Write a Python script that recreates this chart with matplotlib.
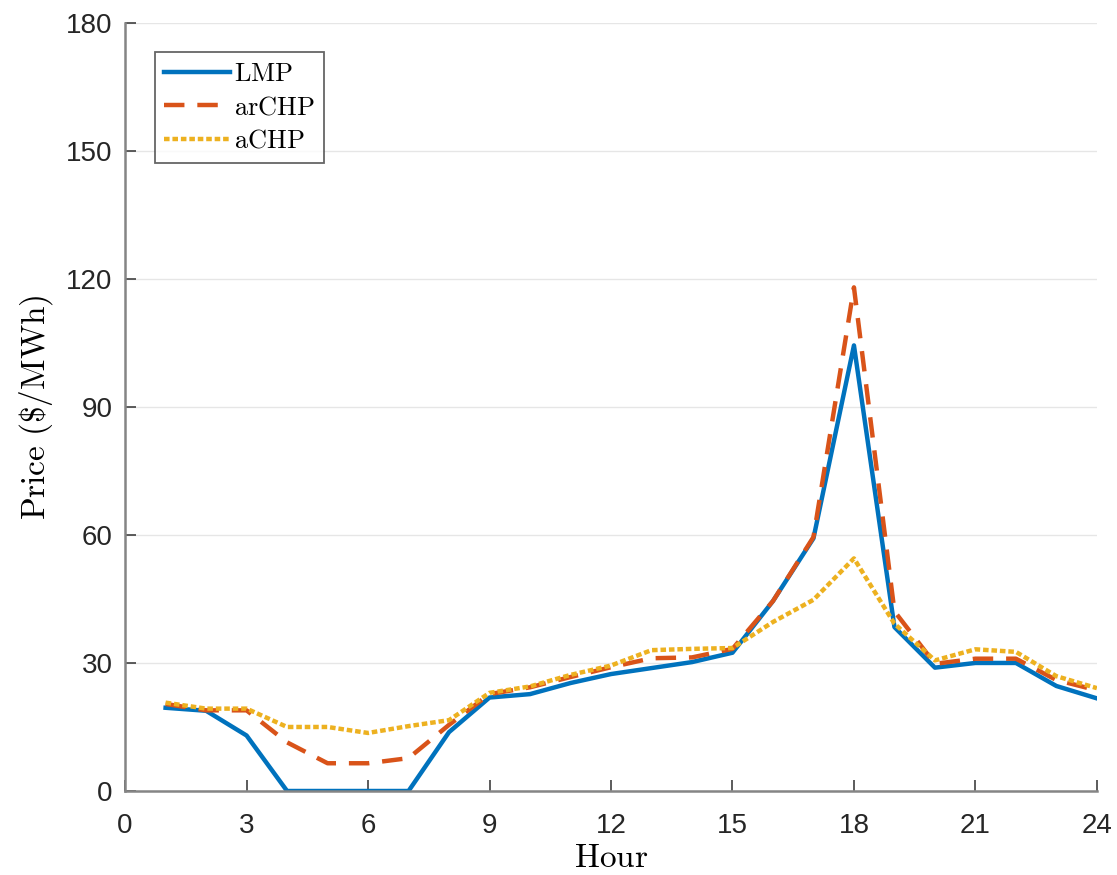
import matplotlib.pyplot as plt

plt.rcParams["mathtext.fontset"] = "cm"

# ----------------------------
# Hourly price data
# ----------------------------
hours = list(range(1, 25))

lmp = [19.5, 18.8, 13.0, 0, 0, 0, 0, 13.8, 21.9, 22.7, 25.3, 27.4,
       28.8, 30.2, 32.4, 44.5, 59.2, 104.4, 38.4, 28.9, 30.0, 30.0, 24.6, 21.7]

archp = [20.4, 18.9, 18.9, 11.4, 6.5, 6.5, 7.7, 15.5, 22.7, 24.3, 26.7, 29.0,
         31.1, 31.3, 33.3, 44.5, 59.5, 118.0, 42.1, 29.8, 31.0, 31.0, 26.0, 23.6]

achp = [20.7, 19.3, 19.3, 15.0, 15.0, 13.6, 15.2, 16.6, 23.0, 24.5, 27.2, 29.4,
        33.0, 33.3, 33.5, 39.6, 44.8, 54.5, 39.2, 30.6, 33.2, 32.6, 26.9, 24.1]

x_ticks = list(range(0, 25, 3))
y_ticks = list(range(0, 181, 30))

# ----------------------------
# Plot
# ----------------------------
fig = plt.figure(figsize=(11.17, 8.75), dpi=100)
ax = fig.add_axes([0.112, 0.096, 0.870, 0.878])

ax.plot(hours, lmp, color="#0072BD", lw=3.2, label=r"$\mathrm{LMP}$")
ax.plot(hours, archp, color="#D95319", lw=3.2, dashes=(4.6, 2.9),
        label=r"$\mathrm{arCHP}$")
ax.plot(hours, achp, color="#EDB120", lw=3.2, dashes=(1.25, 0.65),
        label=r"$\mathrm{aCHP}$")

ax.set_xlim(0, 24)
ax.set_ylim(0, 180)
ax.set_xticks(x_ticks)
ax.set_yticks(y_ticks)

ax.grid(axis="y", color="#e6e6e6", lw=1)
ax.set_axisbelow(True)

for side in ["top", "right"]:
    ax.spines[side].set_visible(False)
for side in ["left", "bottom"]:
    ax.spines[side].set_color("#858585")
    ax.spines[side].set_linewidth(1.8)

ax.tick_params(direction="in", length=8, width=1.2, color="#404040",
               labelcolor="#262626", labelsize=20)
ax.tick_params(axis="x", pad=16)
ax.tick_params(axis="y", pad=9)
for lbl in ax.get_xticklabels() + ax.get_yticklabels():
    lbl.set_family("Liberation Sans")

ax.set_xlabel(r"$\mathrm{Hour}$", fontsize=24, labelpad=1)
ax.set_ylabel(r"$\mathrm{Price\ (\$/MWh)}$", fontsize=24, labelpad=8)

leg = ax.legend(loc="upper left", bbox_to_anchor=(0.031, 0.962),
                prop={"size": 19},
                frameon=True, fancybox=False, handlelength=2.5,
                handletextpad=0.15, labelspacing=0.28, borderpad=0.35,
                borderaxespad=0)
leg.get_frame().set_edgecolor("#404040")
leg.get_frame().set_linewidth(1.3)

plt.savefig("out.png", dpi=100)
